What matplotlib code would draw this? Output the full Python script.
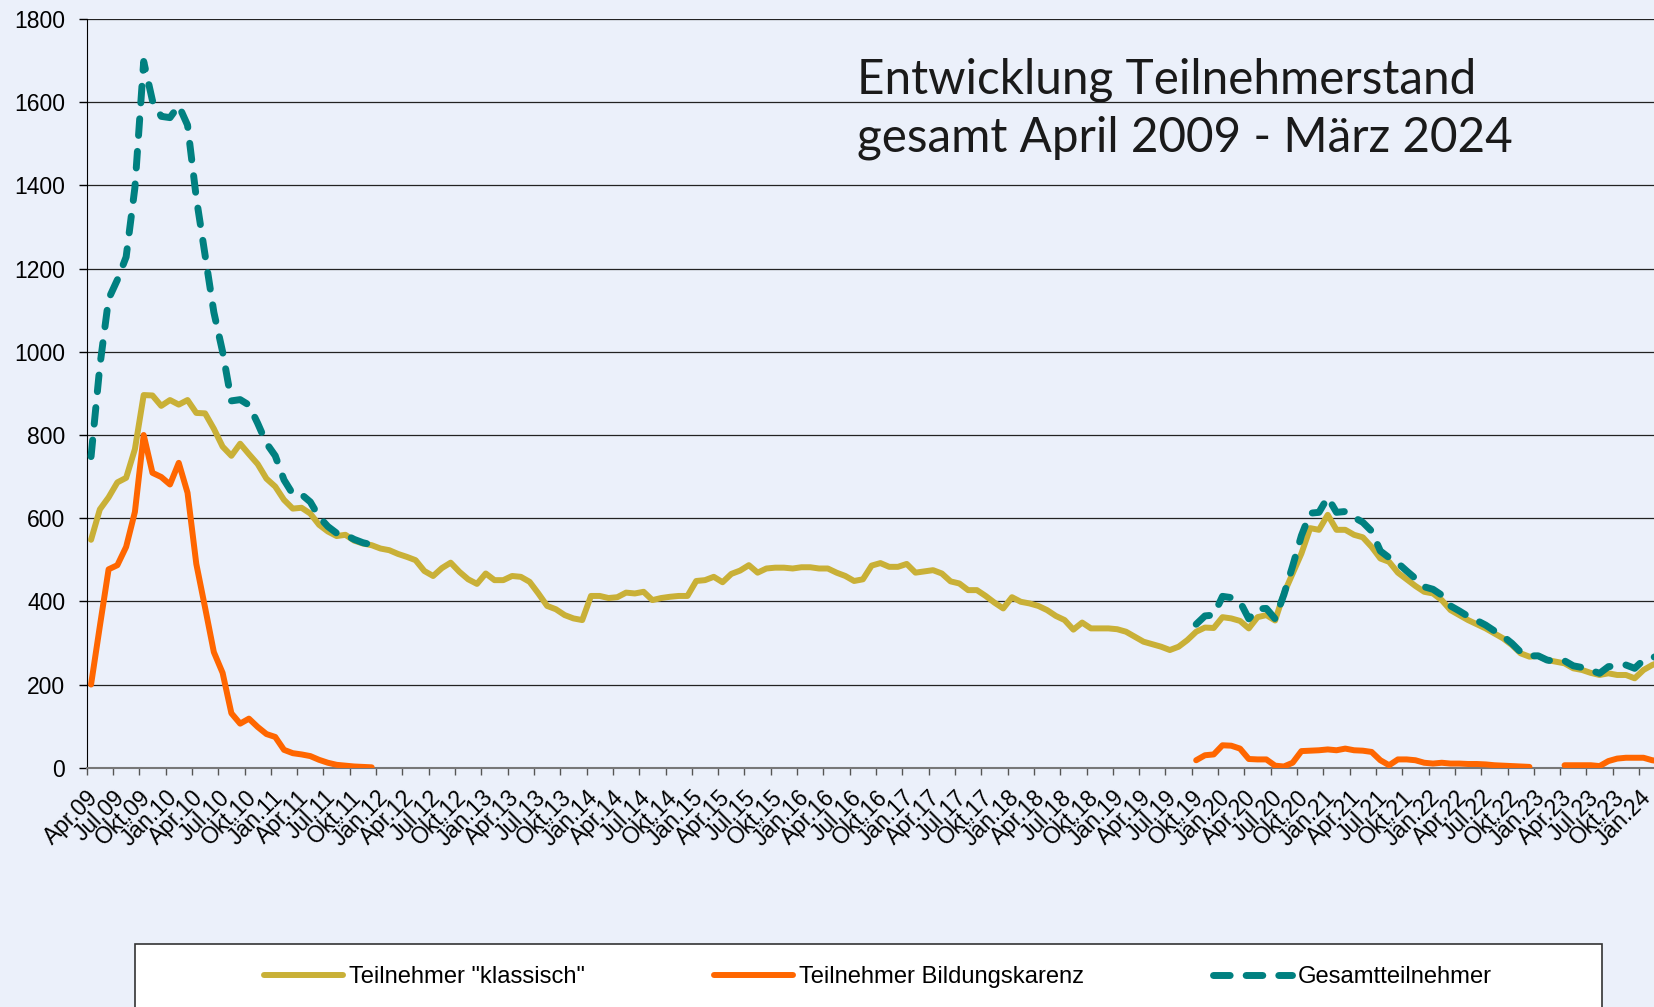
import numpy as np
import matplotlib.pyplot as plt
from matplotlib.patches import Rectangle
from matplotlib.transforms import ScaledTranslation

# monthly values, April 2009 .. March 2024
klassisch = [
    548, 621, 650, 686, 697, 766, 896, 895, 870, 884, 873, 884,
    853, 852, 815, 772, 750, 779, 754, 730, 695, 676, 644, 623,
    625, 611, 584, 568, 557, 560, 546, 539, 535, 527, 523, 514,
    507, 499, 473, 461, 480, 493, 471, 453, 442, 467, 451, 451,
    461, 459, 447, 419, 389, 381, 367, 359, 355, 413, 413, 408,
    410, 421, 419, 423, 403, 408, 411, 413, 413, 449, 451, 459,
    446, 466, 474, 487, 469, 479, 481, 481, 479, 482, 482, 479,
    479, 469, 461, 449, 453, 486, 492, 483, 483, 490, 469, 472,
    475, 467, 448, 443, 427, 427, 413, 397, 383, 410, 399, 395,
    389, 379, 365, 355, 332, 349, 335, 335, 335, 333, 327, 315,
    303, 297, 291, 283, 291, 307, 327, 337, 336, 362, 359, 353,
    335, 362, 367, 354, 419, 467, 515, 576, 572, 608, 572, 572,
    560, 554, 531, 503, 495, 469, 453, 437, 423, 419, 403, 379,
    367, 355, 345, 335, 323, 311, 295, 275, 267, 269, 259, 255,
    251, 239, 235, 228, 223, 227, 223, 223, 215, 235, 247, 255,
]

bildungskarenz = (
    [200, 340, 477, 487, 531, 615, 800, 709, 699, 681, 733, 661,
     490, 385, 278, 228, 131, 106, 118, 98, 81, 74, 43, 35,
     32, 28, 19, 12, 7, 5, 3, 2, 1]
    + [None] * 93
    + [18, 30, 32, 54, 53, 46, 21, 20, 20, 5, 3, 12,
       40, 41, 42, 44, 42, 46, 42, 41, 38, 18, 6, 20,
       20, 18, 12, 10, 12, 10, 10, 9, 9, 8, 6, 5,
       4, 3, 2]
    + [None] * 3
    + [6, 6, 6, 6, 4, 16, 22, 24, 24, 24, 18, 15]
)

gesamt = (
    [748, 965, 1127, 1173, 1228, 1395, 1698, 1604, 1566, 1563, 1592, 1545,
     1370, 1232, 1095, 1000, 882, 885, 872, 828, 780, 750, 692, 658,
     657, 639, 603, 580, 564, 560, 549, 541, 536]
    + [None] * 93
    + [345, 365, 367, 412, 409, 399, 358, 382, 383, 358, 416, 485,
       558, 612, 614, 650, 614, 616, 602, 590, 569, 521, 505, 492,
       473, 455, 435, 429, 415, 389, 377, 364, 354, 343, 329, 316,
       299, 278, 269, 269, 259, 255, 257, 245, 241, 234, 227, 243,
       245, 247, 239, 259, 265, 270]
)

month_names = ["Apr", "Jul", "Okt", "Jän"]
tick_labels = [f"{month_names[k % 4]}.{9 + (k + 1) // 4:02d}" for k in range(60)]

bg = '#EBF0FA'
plt.rcParams['font.family'] = ['Liberation Sans', 'DejaVu Sans']

fig = plt.figure(figsize=(16.54, 10.07), dpi=100, facecolor=bg)
ax = fig.add_axes([0.0524, 0.2376, 0.9476, 0.7435], facecolor=bg)

x = np.arange(len(klassisch)) + 0.5
k = np.array([np.nan if v is None else v for v in bildungskarenz], dtype=float)
g = np.array([np.nan if v is None else v for v in gesamt], dtype=float)

ax.plot(x, klassisch, color='#C9B037', lw=4.3, solid_joinstyle='round',
        solid_capstyle='round', label='Teilnehmer "klassisch"', zorder=3)
ax.plot(x, k, color='#FF6600', lw=4.3, solid_joinstyle='round',
        solid_capstyle='round', label='Teilnehmer Bildungskarenz', zorder=4)
teal, = ax.plot(x, g, color='#008080', lw=5, dash_capstyle='round',
                dash_joinstyle='round', label='Gesamtteilnehmer', zorder=5)
teal.set_dashes([2.4, 2.3])

ax.set_xlim(0, 178.7)
ax.set_ylim(0, 1800)
ax.set_yticks(np.arange(0, 1801, 200))
ax.grid(axis='y', color='#222222', lw=0.9)
ax.set_axisbelow(True)

ax.set_xticks(np.arange(0, 180, 3))
ax.set_xticklabels(tick_labels, rotation=45, ha='right', va='top',
                   rotation_mode='anchor', fontsize=16.5)
offset = ScaledTranslation(8 / 100, 0, fig.dpi_scale_trans)
for lab in ax.get_xticklabels():
    lab.set_transform(lab.get_transform() + offset)
ax.tick_params(axis='x', length=5, width=1, color='#555555', pad=8)
ax.tick_params(axis='y', length=5.5, width=1, labelsize=16.5, pad=10)

for s in ['top', 'right']:
    ax.spines[s].set_visible(False)
ax.spines['left'].set_color('black')
ax.spines['bottom'].set_color('#777777')
ax.spines['bottom'].set_linewidth(1.5)

title_font = dict(family=['Lato', 'DejaVu Sans'], fontsize=34.3, color='#1a1a1a',
                  ha='left', va='baseline')
fig.text(857 / 1654, 1 - 93 / 1007, 'Entwicklung Teilnehmerstand', **title_font)
fig.text(857 / 1654, 1 - 151 / 1007, 'gesamt April 2009 - März 2024', **title_font)

fig.patches.append(Rectangle((135 / 1654, -0.05), (1602 - 135) / 1654, 0.05 + 1 - 944 / 1007,
                             transform=fig.transFigure, facecolor='white',
                             edgecolor='#333333', lw=1.2, zorder=0))
fig.legend(loc='center left', bbox_to_anchor=(264 / 1654, 1 - 977 / 1007), ncol=3,
           frameon=False, fontsize=17.1, handlelength=3.33, handletextpad=0.25,
           columnspacing=5.43, borderpad=0, borderaxespad=0)

fig.savefig('out.png', dpi=100, facecolor=bg)
